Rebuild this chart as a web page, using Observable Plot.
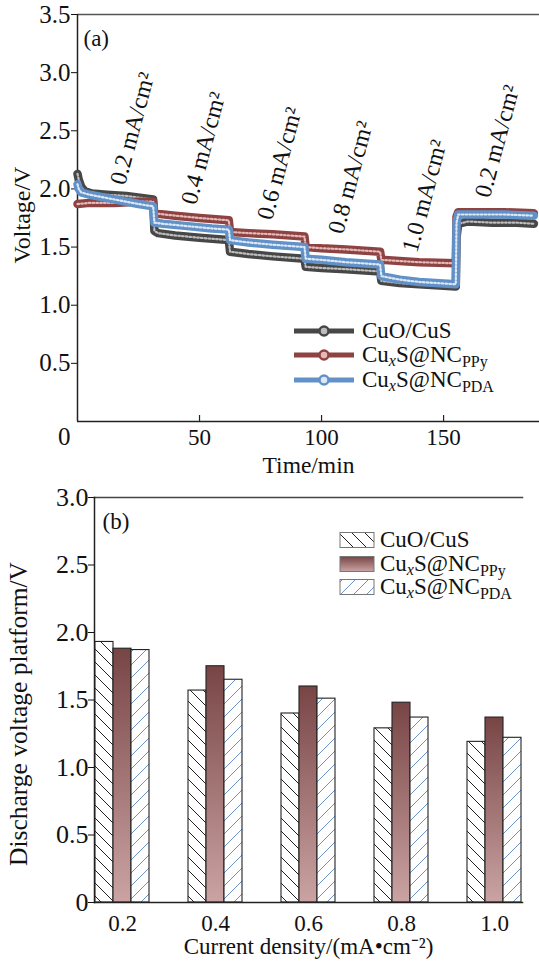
<!DOCTYPE html>
<html>
<head>
<meta charset="utf-8">
<script src="https://cdn.jsdelivr.net/npm/d3@7"></script>
<script src="https://cdn.jsdelivr.net/npm/@observablehq/plot@0.6"></script>
<style>
  html, body { margin: 0; padding: 0; background: #fff; }
  #chart svg { display: block; }
</style>
</head>
<body>
<div id="chart"></div>
<script>
// ---------- Panel (a): voltage vs time ----------
const timeCuO = [0, 0.5, 1.5, 3, 6, 12, 20, 31, 31.5, 33, 40, 50, 62, 62.5, 70, 80, 93, 93.5, 100, 110, 124, 124.5, 132, 140, 155, 155.3, 156, 160, 170, 180, 187];
const voltCuO = [2.13, 2.08, 2.02, 1.98, 1.96, 1.95, 1.94, 1.91, 1.64, 1.62, 1.60, 1.58, 1.56, 1.46, 1.44, 1.42, 1.40, 1.33, 1.32, 1.31, 1.29, 1.21, 1.19, 1.18, 1.16, 1.58, 1.70, 1.72, 1.71, 1.71, 1.70];

const timePPy = [0, 5, 15, 25, 31, 31.5, 40, 50, 62, 62.5, 70, 80, 93, 93.5, 100, 110, 124, 124.5, 132, 140, 155, 155.3, 156, 165, 175, 187];
const voltPPy = [1.87, 1.88, 1.88, 1.89, 1.89, 1.79, 1.77, 1.75, 1.73, 1.63, 1.62, 1.61, 1.59, 1.50, 1.49, 1.48, 1.46, 1.39, 1.38, 1.37, 1.36, 1.76, 1.80, 1.80, 1.80, 1.79];

const timePDA = [0, 0.5, 1.5, 5, 15, 25, 31, 31.5, 35, 45, 55, 62, 62.5, 70, 80, 93, 93.5, 100, 110, 124, 124.5, 132, 140, 155, 155.3, 156, 165, 175, 187];
const voltPDA = [2.04, 2.00, 1.97, 1.95, 1.91, 1.87, 1.85, 1.71, 1.70, 1.68, 1.66, 1.65, 1.56, 1.54, 1.52, 1.50, 1.40, 1.39, 1.37, 1.35, 1.25, 1.22, 1.20, 1.18, 1.71, 1.78, 1.78, 1.78, 1.77];

const rateLabels = ["0.2 mA/cm²", "0.4 mA/cm²", "0.6 mA/cm²", "0.8 mA/cm²", "1.0 mA/cm²", "0.2 mA/cm²"];
const rateLabelTime = [22.5, 51.6, 82.8, 111.9, 142.2, 172];
const rateLabelVolt = [2.52, 2.35, 2.22, 2.10, 1.94, 2.41];

const yTicksA = [0.5, 1.0, 1.5, 2.0, 2.5, 3.0, 3.5];
const xTicksA = [50, 100, 150];

// ---------- Panel (b): discharge voltage platform ----------
const densities = ["0.2", "0.4", "0.6", "0.8", "1.0"];
const barCuO = [1.93, 1.57, 1.40, 1.29, 1.19];
const barPPy = [1.88, 1.75, 1.60, 1.48, 1.37];
const barPDA = [1.87, 1.65, 1.51, 1.37, 1.22];
const yTicksB = [0, 0.5, 1.0, 1.5, 2.0, 2.5, 3.0];

const seriesKeys = ["CuO", "PPy", "PDA"];

const FONT = "'Liberation Serif', 'Times New Roman', serif";
const FS = 23;
const col = {
  CuO: {dark: "#474747", light: "#bdbdbd"},
  PPy: {dark: "#8e4343", light: "#e6b9b9"},
  PDA: {dark: "#6291c8", light: "#dbe8f6"}
};

const mk = (ts, vs) => ts.map((t, i) => ({t, v: vs[i]}));
const lineData = {CuO: mk(timeCuO, voltCuO), PPy: mk(timePPy, voltPPy), PDA: mk(timePDA, voltPDA)};
const labelRows = rateLabels.map((label, i) => ({label, t: rateLabelTime[i], v: rateLabelVolt[i]}));

const hA = 480, mTopA = 14, mBotA = 59;
const innerA = hA - mTopA - mBotA;

const lineMarks = [];
for (const k of seriesKeys) {
  lineMarks.push(Plot.line(lineData[k], {x: "t", y: "v", stroke: col[k].dark, strokeWidth: 8.5, strokeLinecap: "round", strokeLinejoin: "round"}));
  lineMarks.push(Plot.line(lineData[k], {x: "t", y: "v", stroke: col[k].light, strokeWidth: 2.2, strokeDasharray: "1.6,2.2"}));
}

const plotA = Plot.plot({
  width: 539,
  height: hA,
  marginLeft: 77,
  marginRight: 0,
  marginTop: mTopA,
  marginBottom: mBotA,
  style: {fontFamily: FONT, fontSize: FS + "px", color: "#111", background: "#fff"},
  x: {domain: [0, 189.3]},
  y: {domain: [0, 3.5]},
  marks: [
    Plot.ruleY([3.5], {stroke: "#555", strokeWidth: 1.5}),
    Plot.ruleY([0], {stroke: "#222", strokeWidth: 1.5}),
    Plot.ruleX([0], {stroke: "#222", strokeWidth: 1.5}),
    Plot.axisY({ticks: yTicksA, tickSize: 6, tickPadding: 1, tickFormat: d3.format(".1f"), label: null, fontSize: 25}),
    Plot.axisX({ticks: xTicksA, tickSize: 0, tickPadding: 7, label: null, fontSize: FS}),
    Plot.tickX(xTicksA, {stroke: "#222", strokeWidth: 1.2, insetTop: innerA - 6}),
    Plot.text(["0"], {x: 0, y: 0, dx: -7, dy: 15, textAnchor: "end", fontSize: 25}),
    Plot.text(["Time/min"], {frameAnchor: "bottom", dy: 51, fontSize: 23.5}),
    Plot.text(["Voltage/V"], {frameAnchor: "left", dx: -55, dy: -3, rotate: -90, textAnchor: "middle", fontSize: 24}),
    Plot.text(["(a)"], {frameAnchor: "top-left", dx: 6, dy: 15, textAnchor: "start", fontSize: FS}),
    ...lineMarks,
    Plot.text(labelRows, {x: "t", y: "v", text: "label", rotate: -75, fontSize: 24, fill: "#111"})
  ]
});

// ---------- Panel (b) ----------
const barRows = [];
densities.forEach((d, i) => {
  barRows.push({density: d, series: "CuO", value: barCuO[i]});
  barRows.push({density: d, series: "PPy", value: barPPy[i]});
  barRows.push({density: d, series: "PDA", value: barPDA[i]});
});
const fills = {CuO: "url(#hatchCuO)", PPy: "url(#gradPPy)", PDA: "url(#hatchPDA)"};

const hB = 481, mTopB = 17, mBotB = 59;
const plotB = Plot.plot({
  width: 539,
  height: hB,
  marginLeft: 77,
  marginRight: 0,
  marginTop: mTopB,
  marginBottom: mBotB,
  style: {fontFamily: FONT, fontSize: FS + "px", color: "#111", background: "#fff"},
  fx: {domain: densities, paddingInner: 0.4, paddingOuter: 0.18, align: 0.5, label: null},
  x: {domain: seriesKeys, padding: 0, axis: null},
  y: {domain: [0, 3]},
  marks: [
    Plot.frame({anchor: "top", facet: "super", stroke: "#444", strokeWidth: 1.5}),
    Plot.frame({anchor: "left", facet: "super", stroke: "#222", strokeWidth: 1.5}),
    Plot.axisY({ticks: yTicksB, tickSize: 6, tickPadding: 0, tickFormat: d => d === 0 ? "0" : d3.format(".1f")(d), label: null, fontSize: 26}),
    Plot.axisFx({anchor: "bottom", tickSize: 0, tickPadding: 12, label: null, fontSize: FS}),
    ...seriesKeys.map(k => Plot.barY(barRows.filter(r => r.series === k), {fx: "density", x: "series", y: "value", fill: fills[k], stroke: "#222", strokeWidth: 1.1})),
    Plot.frame({anchor: "bottom", facet: "super", stroke: "#222", strokeWidth: 1.5}),
    Plot.text(["Current density/(mA•cm⁻²)"], {frameAnchor: "bottom", dy: 51, fontSize: FS, facet: "super"}),
    Plot.text(["Discharge voltage platform/V"], {frameAnchor: "left", dx: -76, dy: 14, rotate: -90, textAnchor: "middle", fontSize: 25.5, facet: "super"}),
    Plot.text(["(b)"], {frameAnchor: "top-left", dx: 8, dy: 15, textAnchor: "start", fontSize: FS, facet: "super"})
  ]
});

// defs: hatch patterns + gradient
function addDefs(svg) {
  const defs = d3.select(svg).insert("defs", ":first-child");
  const s = 13;
  const pc = defs.append("pattern").attr("id", "hatchCuO").attr("patternUnits", "userSpaceOnUse").attr("width", s).attr("height", s);
  pc.append("rect").attr("width", s).attr("height", s).attr("fill", "#fff");
  pc.append("path").attr("d", `M0,0L${s},${s}M${-2},${s - 2}L2,${s + 2}M${s - 2},-2L${s + 2},2`).attr("stroke", "#222").attr("stroke-width", 1);
  const pd = defs.append("pattern").attr("id", "hatchPDA").attr("patternUnits", "userSpaceOnUse").attr("width", s).attr("height", s);
  pd.append("rect").attr("width", s).attr("height", s).attr("fill", "#fff");
  pd.append("path").attr("d", `M0,${s}L${s},0M-2,2L2,-2M${s - 2},${s + 2}L${s + 2},${s - 2}`).attr("stroke", "#6b93c6").attr("stroke-width", 1);
  const g = defs.append("linearGradient").attr("id", "gradPPy").attr("x1", 0).attr("y1", 0).attr("x2", 0).attr("y2", 1);
  g.append("stop").attr("offset", "0%").attr("stop-color", "#784545");
  g.append("stop").attr("offset", "100%").attr("stop-color", "#cba3a3");
}
addDefs(plotB);

// legends (inside plot areas)
function legendLabel(sel, k) {
  if (k === "CuO") { sel.append("tspan").text("CuO/CuS"); return; }
  sel.append("tspan").text("Cu");
  sel.append("tspan").attr("font-style", "italic").attr("font-size", 16).attr("dy", 4).text("x");
  sel.append("tspan").attr("dy", -4).text("S@NC");
  sel.append("tspan").attr("font-size", 16).attr("dy", 5).text(k === "PPy" ? "PPy" : "PDA");
}
{
  const g = d3.select(plotA).append("g").attr("font-family", FONT).attr("font-size", FS).attr("fill", "#111").attr("text-anchor", "start");
  const rows = [331, 355, 380];
  seriesKeys.forEach((k, i) => {
    const y = rows[i];
    g.append("line").attr("x1", 294).attr("x2", 354).attr("y1", y).attr("y2", y).attr("stroke", col[k].dark).attr("stroke-width", 5);
    g.append("circle").attr("cx", 324).attr("cy", y).attr("r", 4.5).attr("fill", col[k].light).attr("stroke", col[k].dark).attr("stroke-width", 2.5);
    legendLabel(g.append("text").attr("x", 362).attr("y", y + 7), k);
  });
}
{
  const g = d3.select(plotB).append("g").attr("font-family", FONT).attr("font-size", FS).attr("fill", "#111").attr("text-anchor", "start");
  const rows = [60, 84, 107];
  seriesKeys.forEach((k, i) => {
    const y = rows[i];
    g.append("rect").attr("x", 340).attr("y", y - 7.5).attr("width", 34).attr("height", 15).attr("fill", fills[k]).attr("stroke", "#777").attr("stroke-width", 1);
    legendLabel(g.append("text").attr("x", 380).attr("y", y + 7), k);
  });
}

const root = document.getElementById("chart");
root.appendChild(plotA);
root.appendChild(plotB);
</script>
</body>
</html>
